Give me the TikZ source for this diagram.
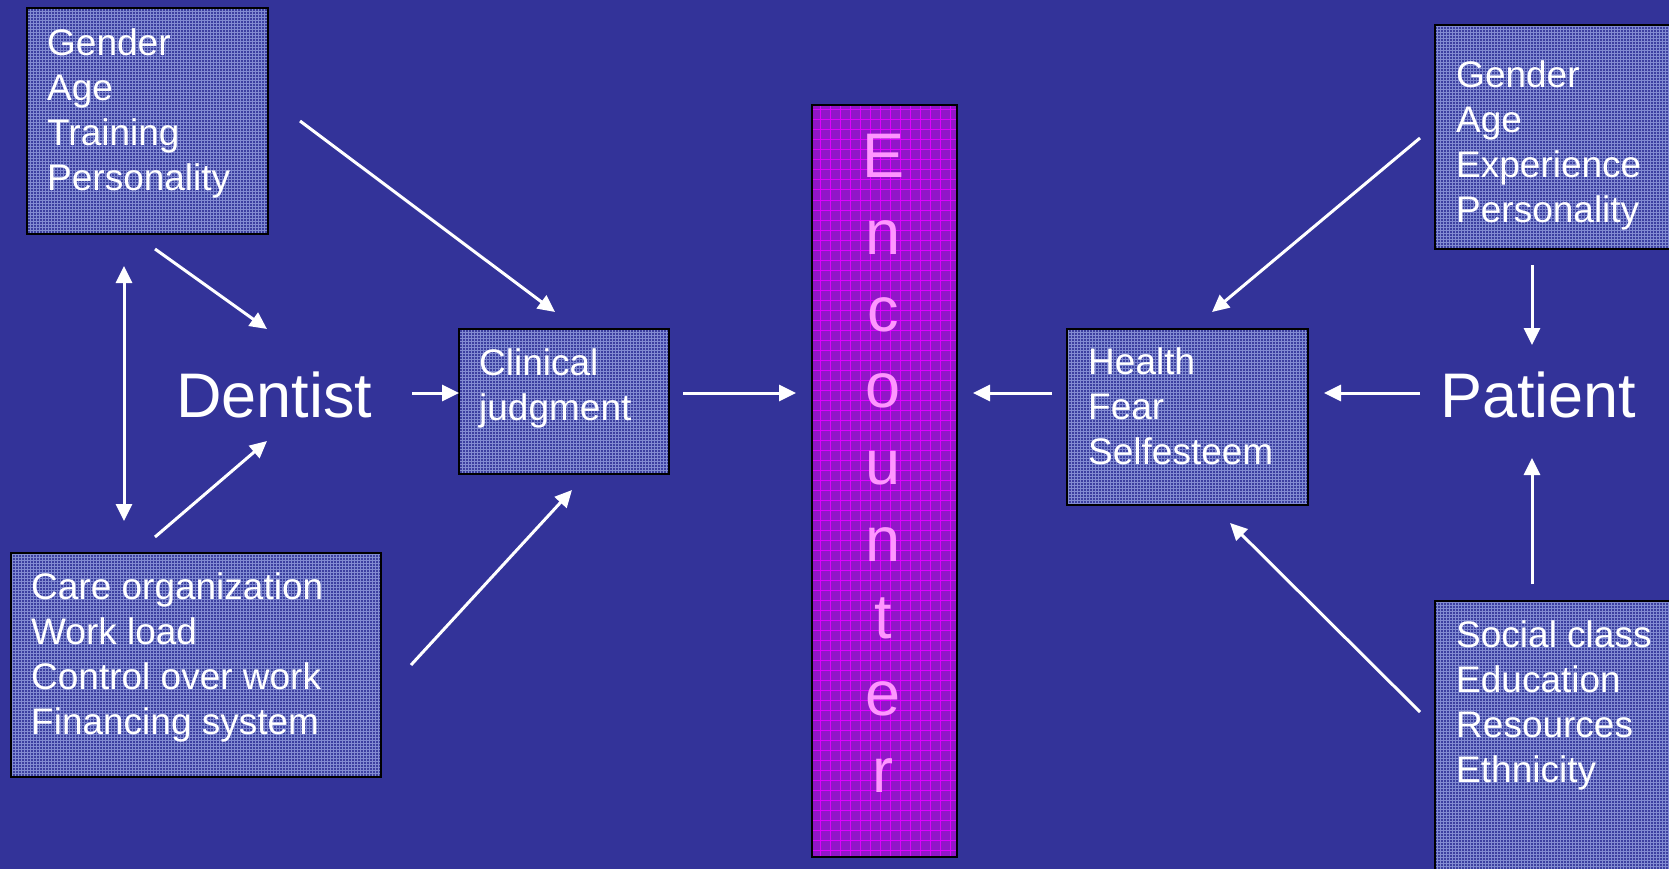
\documentclass[tikz,border=0pt]{standalone}
\usepackage{fontspec}
\setmainfont{Liberation Sans}
\usetikzlibrary{arrows.meta,patterns}
\definecolor{bg}{RGB}{51,51,153}
\definecolor{boxfill}{RGB}{60,64,160}
\definecolor{boxgrid}{RGB}{130,140,210}
\definecolor{encfill}{RGB}{145,22,200}
\definecolor{encgrid}{RGB}{222,0,255}
\definecolor{enctext}{RGB}{255,150,255}
\begin{document}
\begin{tikzpicture}[x=1pt,y=-1pt,
  tbox/.style={preaction={fill=boxfill}, pattern=grid, pattern color=boxgrid, draw=black, line width=2.5pt},
  btxt/.style={anchor=north west, inner sep=0pt, align=left, text=white, font=\fontsize{37}{45}\selectfont},
  bigtxt/.style={anchor=base west, inner sep=0pt, text=white, font=\fontsize{63}{75}\selectfont},
  arr/.style={draw=white, line width=3pt, -{Triangle[length=17pt,width=16pt]}},
  darr/.style={draw=white, line width=3pt, {Triangle[length=17pt,width=16pt]}-{Triangle[length=17pt,width=16pt]}}]
\useasboundingbox (0,0) rectangle (1669,869);
\fill[bg] (0,0) rectangle (1669,869);
\begin{scope}
\clip (0,0) rectangle (1669,869);
% boxes
\path[tbox] (27,8) rectangle (268,234);
\path[tbox] (11,553) rectangle (381,777);
\path[tbox] (459,329) rectangle (669,474);
\path[tbox] (1067,329) rectangle (1308,505);
\path[tbox] (1435,25) rectangle (1710,249);
\path[tbox] (1435,601) rectangle (1710,920);
% encounter
\fill[encfill] (812,105) rectangle (957,857);
\draw[encgrid, line width=1pt, step=10pt] (812,105) grid (957,857);
\draw[black, line width=2.5pt] (812,105) rectangle (957,857);
\end{scope}
% texts
\node[btxt] (tl) at (47,23.5) {\strut Gender\\Age\\Training\\Personality};
\node[btxt] (bl) at (31,567.5) {\strut Care organization\\Work load\\Control over work\\Financing system};
\node[btxt] (clin) at (479,343.5) {\strut Clinical\\judgment};
\node[btxt] (health) at (1088,342.5) {\strut Health\\Fear\\Selfesteem};
\node[btxt] (tr) at (1456,55.5) {\strut Gender\\Age\\Experience\\Personality};
\node[btxt] (br) at (1456,615.5) {\strut Social class\\Education\\Resources\\Ethnicity};
\node[bigtxt] (dentist) at (176,417) {Dentist};
\node[bigtxt] (patient) at (1440,417) {Patient};
\node[anchor=north, inner sep=0pt, align=center, text=enctext, font=\fontsize{63}{76.9}\selectfont] (enc) at (883,123.2) {\strut E\\n\\c\\o\\u\\n\\t\\e\\r};
% connector end points
\coordinate (a1s) at (300,121);  \coordinate (a1e) at (555,312);
\coordinate (a2s) at (155,249);  \coordinate (a2e) at (267,329);
\coordinate (a3s) at (124,266);  \coordinate (a3e) at (124,521);
\coordinate (a4s) at (155,537);  \coordinate (a4e) at (267,441);
\coordinate (a5s) at (412,393);  \coordinate (a5e) at (459,393);
\coordinate (a6s) at (683,393);  \coordinate (a6e) at (796,393);
\coordinate (a7s) at (411,665);  \coordinate (a7e) at (572,490);
\coordinate (a8s) at (1052,393); \coordinate (a8e) at (973,393);
\coordinate (a9s) at (1420,393); \coordinate (a9e) at (1324,393);
\coordinate (a10s) at (1420,138); \coordinate (a10e) at (1212,312);
\coordinate (a11s) at (1532,265); \coordinate (a11e) at (1532,345);
\coordinate (a12s) at (1532,584); \coordinate (a12e) at (1532,458);
\coordinate (a13s) at (1420,712); \coordinate (a13e) at (1230,523);
\draw[arr] (a1s) -- (a1e);
\draw[arr] (a2s) -- (a2e);
\draw[darr] (a3s) -- (a3e);
\draw[arr] (a4s) -- (a4e);
\draw[arr] (a5s) -- (a5e);
\draw[arr] (a6s) -- (a6e);
\draw[arr] (a7s) -- (a7e);
\draw[arr] (a8s) -- (a8e);
\draw[arr] (a9s) -- (a9e);
\draw[arr] (a10s) -- (a10e);
\draw[arr] (a11s) -- (a11e);
\draw[arr] (a12s) -- (a12e);
\draw[arr] (a13s) -- (a13e);
\end{tikzpicture}
\end{document}
